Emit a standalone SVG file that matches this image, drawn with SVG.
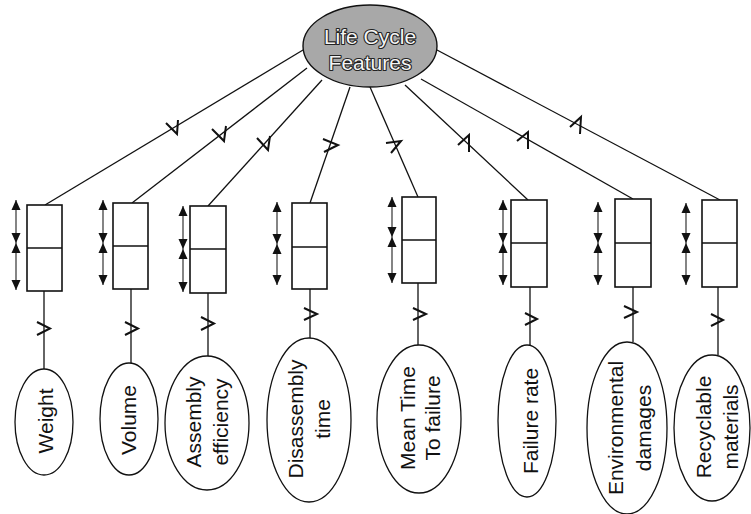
<svg xmlns="http://www.w3.org/2000/svg" xmlns:xlink="http://www.w3.org/1999/xlink" width="751" height="514" viewBox="0 0 751 514">
  <style>
    .edge { fill: none; stroke: #111; stroke-width: 1.3; }
    .tick { fill: none; stroke: #111; stroke-width: 2; stroke-linejoin: miter; }
    .box { fill: #fff; stroke: #111; stroke-width: 1.6; }
    .div { stroke: #111; stroke-width: 1.3; }
    .stem { stroke: #333; stroke-width: 1.2; }
    .tri { fill: #111; }
    .leaf { fill: #fff; stroke: #111; stroke-width: 1.3; }
    .lbl { font-family: "Liberation Sans", Arial, sans-serif; font-size: 21px; fill: #111; text-anchor: middle; }
    .root { fill: #a8a8a8; stroke: #111; stroke-width: 1.4; }
    .rootlbl { font-family: "Liberation Sans", Arial, sans-serif; font-size: 21px; fill: #f4f4f4; stroke: #222; stroke-width: 2.2; paint-order: stroke; stroke-linejoin: round; text-anchor: middle; }
  </style>
  <defs>
    <!-- filled arrowheads, tip at the origin -->
    <path id="tri-up" class="tri" d="M0,0 L4.5,10 L-4.5,10 Z"/>
    <path id="tri-down" class="tri" d="M0,0 L4.5,-10 L-4.5,-10 Z"/>
  </defs>

  <rect width="751" height="514" fill="#fff"/>

  <!-- connectors: root to boxes, boxes to leaves, with tick marks -->
  <g id="connectors">
    <line class="edge" x1="303" y1="50" x2="45" y2="205"/>
    <line class="edge" x1="307" y1="68" x2="132" y2="203"/>
    <line class="edge" x1="322" y1="80" x2="208" y2="206"/>
    <line class="edge" x1="350" y1="87" x2="310" y2="203"/>
    <line class="edge" x1="370" y1="87" x2="418" y2="197"/>
    <line class="edge" x1="405" y1="85" x2="528" y2="200"/>
    <line class="edge" x1="421" y1="79" x2="633" y2="199"/>
    <line class="edge" x1="437" y1="50" x2="720" y2="200"/>

    <path class="tick" d="M166,123 L177,134 L178,120"/>
    <path class="tick" d="M212,129 L224,141 L226,126"/>
    <path class="tick" d="M257,138 L268,150 L270,136"/>
    <path class="tick" d="M323,139 L338,145 L324,152"/>
    <path class="tick" d="M386,143 L401,141 L391,153"/>
    <path class="tick" d="M458,145 L469,135 L469,152"/>
    <path class="tick" d="M517,141 L528,132 L528,149"/>
    <path class="tick" d="M570,127 L581,117 L580,134"/>

    <line class="edge" x1="44" y1="291" x2="44" y2="369"/>
    <line class="edge" x1="131" y1="289" x2="131" y2="363"/>
    <line class="edge" x1="208" y1="293" x2="208" y2="356"/>
    <line class="edge" x1="310" y1="289" x2="310" y2="338"/>
    <line class="edge" x1="418" y1="283" x2="418" y2="345"/>
    <line class="edge" x1="530" y1="287" x2="530" y2="345"/>
    <line class="edge" x1="633" y1="287" x2="633" y2="342"/>
    <line class="edge" x1="718" y1="287" x2="718" y2="355"/>

    <path class="tick" d="M37,322 L50,328.5 L37,335"/>
    <path class="tick" d="M125,322 L138,328.5 L125,335"/>
    <path class="tick" d="M201,317 L214,323.5 L201,330"/>
    <path class="tick" d="M304,308 L317,314 L304,320"/>
    <path class="tick" d="M413,308 L426,314 L413,320"/>
    <path class="tick" d="M525,313 L537,319 L525,325"/>
    <path class="tick" d="M624,306 L637,312 L624,318"/>
    <path class="tick" d="M711,314 L723,320 L711,326"/>
  </g>

  <!-- root node -->
  <g id="life-cycle-features">
    <ellipse class="root" cx="370" cy="46" rx="67" ry="41"/>
    <text class="rootlbl" x="370" y="44">Life Cycle</text>
    <text class="rootlbl" x="370" y="70">Features</text>
  </g>

  <!-- range boxes with their double arrows -->
  <g id="box-weight">
    <rect class="box" x="27" y="205" width="35" height="86"/>
    <line class="div" x1="27" y1="248" x2="62" y2="248"/>
    <line class="stem" x1="16" y1="200" x2="16" y2="290"/>
    <use xlink:href="#tri-up" x="16" y="200"/><use xlink:href="#tri-down" x="16" y="243"/>
    <use xlink:href="#tri-up" x="16" y="243"/><use xlink:href="#tri-down" x="16" y="290"/>
  </g>
  <g id="box-volume">
    <rect class="box" x="113" y="203" width="35" height="86"/>
    <line class="div" x1="113" y1="246" x2="148" y2="246"/>
    <line class="stem" x1="103" y1="200" x2="103" y2="285"/>
    <use xlink:href="#tri-up" x="103" y="200"/><use xlink:href="#tri-down" x="103" y="243"/>
    <use xlink:href="#tri-up" x="103" y="243"/><use xlink:href="#tri-down" x="103" y="285"/>
  </g>
  <g id="box-assembly">
    <rect class="box" x="190" y="206" width="36" height="87"/>
    <line class="div" x1="190" y1="249" x2="226" y2="249"/>
    <line class="stem" x1="183" y1="206" x2="183" y2="292"/>
    <use xlink:href="#tri-up" x="183" y="206"/><use xlink:href="#tri-down" x="183" y="249"/>
    <use xlink:href="#tri-up" x="183" y="249"/><use xlink:href="#tri-down" x="183" y="292"/>
  </g>
  <g id="box-disassembly">
    <rect class="box" x="292" y="203" width="35" height="86"/>
    <line class="div" x1="292" y1="247" x2="327" y2="247"/>
    <line class="stem" x1="277" y1="202" x2="277" y2="285"/>
    <use xlink:href="#tri-up" x="277" y="202"/><use xlink:href="#tri-down" x="277" y="244"/>
    <use xlink:href="#tri-up" x="277" y="244"/><use xlink:href="#tri-down" x="277" y="285"/>
  </g>
  <g id="box-mttf">
    <rect class="box" x="402" y="197" width="34" height="86"/>
    <line class="div" x1="402" y1="240" x2="436" y2="240"/>
    <line class="stem" x1="392" y1="197" x2="392" y2="283"/>
    <use xlink:href="#tri-up" x="392" y="197"/><use xlink:href="#tri-down" x="392" y="237"/>
    <use xlink:href="#tri-up" x="392" y="237"/><use xlink:href="#tri-down" x="392" y="283"/>
  </g>
  <g id="box-failure">
    <rect class="box" x="511" y="200" width="36" height="87"/>
    <line class="div" x1="511" y1="243" x2="547" y2="243"/>
    <line class="stem" x1="503" y1="200" x2="503" y2="285"/>
    <use xlink:href="#tri-up" x="503" y="200"/><use xlink:href="#tri-down" x="503" y="243"/>
    <use xlink:href="#tri-up" x="503" y="243"/><use xlink:href="#tri-down" x="503" y="285"/>
  </g>
  <g id="box-environment">
    <rect class="box" x="615" y="199" width="36" height="88"/>
    <line class="div" x1="615" y1="243" x2="651" y2="243"/>
    <line class="stem" x1="598" y1="202" x2="598" y2="285"/>
    <use xlink:href="#tri-up" x="598" y="202"/><use xlink:href="#tri-down" x="598" y="243"/>
    <use xlink:href="#tri-up" x="598" y="243"/><use xlink:href="#tri-down" x="598" y="285"/>
  </g>
  <g id="box-recyclable">
    <rect class="box" x="702" y="200" width="35" height="87"/>
    <line class="div" x1="702" y1="243" x2="737" y2="243"/>
    <line class="stem" x1="686" y1="203" x2="686" y2="285"/>
    <use xlink:href="#tri-up" x="686" y="203"/><use xlink:href="#tri-down" x="686" y="243"/>
    <use xlink:href="#tri-up" x="686" y="243"/><use xlink:href="#tri-down" x="686" y="285"/>
  </g>

  <!-- leaf features, labels read bottom to top -->
  <g id="weight">
    <ellipse class="leaf" cx="44" cy="422" rx="29" ry="53"/>
    <text class="lbl" transform="translate(45,421) rotate(-90)" y="7.5">Weight</text>
  </g>
  <g id="volume">
    <ellipse class="leaf" cx="129" cy="419" rx="29" ry="56"/>
    <text class="lbl" transform="translate(128,420) rotate(-90)" y="7.5">Volume</text>
  </g>
  <g id="assembly-efficiency">
    <ellipse class="leaf" cx="207" cy="423" rx="42" ry="67"/>
    <text class="lbl" transform="translate(206.5,422) rotate(-90)"><tspan x="0" y="-6">Assembly</tspan><tspan x="0" y="21">efficiency</tspan></text>
  </g>
  <g id="disassembly-time">
    <ellipse class="leaf" cx="309" cy="420" rx="42" ry="82"/>
    <text class="lbl" transform="translate(308.5,419) rotate(-90)"><tspan x="0" y="-6">Disassembly</tspan><tspan x="0" y="21">time</tspan></text>
  </g>
  <g id="mean-time-to-failure">
    <ellipse class="leaf" cx="419" cy="419" rx="42" ry="74"/>
    <text class="lbl" transform="translate(419.5,418) rotate(-90)"><tspan x="0" y="-5">Mean Time</tspan><tspan x="0" y="20">To failure</tspan></text>
  </g>
  <g id="failure-rate">
    <ellipse class="leaf" cx="527" cy="421" rx="29" ry="76"/>
    <text class="lbl" transform="translate(530,421) rotate(-90)" y="7.5">Failure rate</text>
  </g>
  <g id="environmental-damages">
    <ellipse class="leaf" cx="627" cy="428" rx="40" ry="86"/>
    <text class="lbl" transform="translate(629,428) rotate(-90)"><tspan x="0" y="-6.5">Environmental</tspan><tspan x="0" y="21.5">damages</tspan></text>
  </g>
  <g id="recyclable-materials">
    <ellipse class="leaf" cx="712" cy="428" rx="38" ry="73"/>
    <text class="lbl" transform="translate(716.5,427) rotate(-90)"><tspan x="0" y="-6">Recyclable</tspan><tspan x="0" y="21">materials</tspan></text>
  </g>
</svg>
